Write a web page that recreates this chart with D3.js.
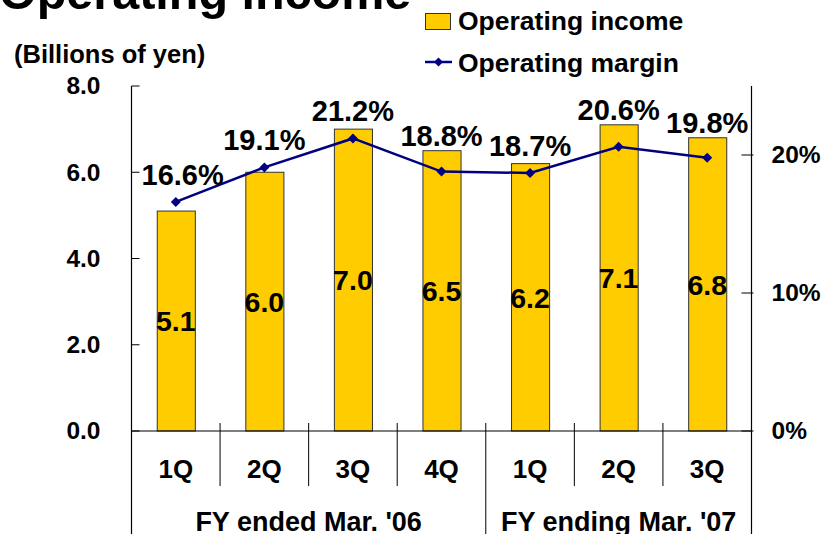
<!DOCTYPE html>
<html>
<head>
<meta charset="utf-8">
<script src="https://cdn.jsdelivr.net/npm/d3@7"></script>
<style>
  html, body { margin: 0; padding: 0; background: #fff; }
  svg { display: block; }
  text { font-family: "Liberation Sans", Arial, sans-serif; font-weight: bold; fill: #000; }
</style>
</head>
<body>
<svg id="chart" width="827" height="534"></svg>
<script>
// ---- Data ----
const quarters = ["1Q", "2Q", "3Q", "4Q", "1Q", "2Q", "3Q"];
const fiscalYears = ["FY ended Mar. '06", "FY ending Mar. '07"];
const fiscalYearSpans = [4, 3];
const operatingIncome = [5.1, 6.0, 7.0, 6.5, 6.2, 7.1, 6.8];
const incomeLabels = ["5.1", "6.0", "7.0", "6.5", "6.2", "7.1", "6.8"];
const operatingMargin = [16.6, 19.1, 21.2, 18.8, 18.7, 20.6, 19.8];
const marginLabels = ["16.6%", "19.1%", "21.2%", "18.8%", "18.7%", "20.6%", "19.8%"];
const leftTicks = [0, 2, 4, 6, 8];
const leftTickLabels = ["0.0", "2.0", "4.0", "6.0", "8.0"];
const rightTicks = [0, 10, 20];
const rightTickLabels = ["0%", "10%", "20%"];
const seriesNames = ["Operating income", "Operating margin"];
const chartTitle = "Operating income";
const unitLabel = "(Billions of yen)";

// ---- Layout ----
const svg = d3.select("#chart");
const plot = { left: 131.5, right: 751.5, top: 86, bottom: 431 };
const barColor = "#FFCC00";
const lineColor = "#000080";

const idx = d3.range(quarters.length);
const x = d3.scaleBand().domain(idx).range([plot.left, plot.right])
  .paddingInner(0.57).paddingOuter(0.285);
const step = x.step();
const cx = i => x(i) + x.bandwidth() / 2;
const yL = d3.scaleLinear().domain([0, 8]).range([plot.bottom, plot.top]);
const yR = d3.scaleLinear().domain([0, 25]).range([plot.bottom, plot.top]);

// Title (partially cut off at top)
svg.append("text").attr("x", -1).attr("y", 9).style("font-size", "48.5px").text(chartTitle);

// Unit label
svg.append("text").attr("x", 14).attr("y", 63).style("font-size", "25.5px").text(unitLabel);

// Legend
const lg = svg.append("g");
lg.append("rect").attr("x", 425.5).attr("y", 13.5).attr("width", 25).attr("height", 16)
  .attr("fill", barColor).attr("stroke", "#333").attr("stroke-width", 1);
lg.append("text").attr("x", 458).attr("y", 30).style("font-size", "26.5px").text(seriesNames[0]);
lg.append("line").attr("x1", 425).attr("x2", 452).attr("y1", 62).attr("y2", 62)
  .attr("stroke", lineColor).attr("stroke-width", 2.5);
lg.append("path").attr("d", d3.symbol(d3.symbolSquare, 40)())
  .attr("transform", "translate(438.5,62) rotate(45)").attr("fill", lineColor);
lg.append("text").attr("x", 458).attr("y", 72).style("font-size", "26.5px").text(seriesNames[1]);

// Bars
svg.append("g").selectAll("rect").data(operatingIncome).join("rect")
  .attr("x", (d, i) => x(i) + 0.5)
  .attr("y", d => yL(d))
  .attr("width", x.bandwidth())
  .attr("height", d => yL(0) - yL(d))
  .attr("fill", barColor).attr("stroke", "#333").attr("stroke-width", 1);

// Bar value labels (centered vertically in bar)
svg.append("g").selectAll("text").data(operatingIncome).join("text")
  .attr("x", (d, i) => cx(i))
  .attr("y", d => (yL(d) + yL(0)) / 2)
  .attr("dy", "0.36em")
  .attr("text-anchor", "middle")
  .style("font-size", "28.5px")
  .text((d, i) => incomeLabels[i]);

// Left axis
const leftAxis = d3.axisLeft(yL).tickValues(leftTicks).tickSize(0).tickFormat((d, i) => leftTickLabels[i]);
const gl = svg.append("g").attr("transform", `translate(${plot.left},0)`).call(leftAxis);
gl.select(".domain").remove();
gl.selectAll("text").attr("x", -31).style("font-size", "24.5px").attr("fill", "#000")
  .style("font-family", '"Liberation Sans", Arial, sans-serif').style("font-weight", "bold");
svg.append("g").selectAll("line").data(leftTicks).join("line")
  .attr("x1", plot.left).attr("x2", plot.left + 8)
  .attr("y1", d => yL(d)).attr("y2", d => yL(d))
  .attr("stroke", "#000").attr("stroke-width", 1);
svg.append("line").attr("x1", plot.left).attr("x2", plot.left)
  .attr("y1", plot.top).attr("y2", 534).attr("stroke", "#000").attr("stroke-width", 1.2);

// Right axis
const rightAxis = d3.axisRight(yR).tickValues(rightTicks).tickSize(0).tickFormat((d, i) => rightTickLabels[i]);
const gr = svg.append("g").attr("transform", `translate(${plot.right},0)`).call(rightAxis);
gr.select(".domain").remove();
gr.selectAll("text").attr("x", 20).style("font-size", "24.5px").attr("fill", "#000")
  .style("font-family", '"Liberation Sans", Arial, sans-serif').style("font-weight", "bold");
svg.append("g").selectAll("line").data(rightTicks).join("line")
  .attr("x1", plot.right - 10).attr("x2", plot.right + 2)
  .attr("y1", d => yR(d)).attr("y2", d => yR(d))
  .attr("stroke", "#000").attr("stroke-width", 1);
svg.append("line").attr("x1", plot.right).attr("x2", plot.right)
  .attr("y1", plot.top).attr("y2", 534).attr("stroke", "#000").attr("stroke-width", 1.2);

// Baseline (category axis)
svg.append("line").attr("x1", plot.left).attr("x2", plot.right)
  .attr("y1", plot.bottom).attr("y2", plot.bottom).attr("stroke", "#000").attr("stroke-width", 1.2);

// Category dividers
let acc = 0;
const yearBounds = fiscalYearSpans.map(s => { acc += s; return acc; });
const dividers = d3.range(1, quarters.length);
svg.append("g").selectAll("line").data(dividers).join("line")
  .attr("x1", d => plot.left + d * step).attr("x2", d => plot.left + d * step)
  .attr("y1", plot.bottom - 8)
  .attr("y2", d => yearBounds.includes(d) ? 534 : 486)
  .attr("stroke", "#000").attr("stroke-width", 1);

// Quarter labels
svg.append("g").selectAll("text").data(quarters).join("text")
  .attr("x", (d, i) => cx(i)).attr("y", 478)
  .attr("text-anchor", "middle").style("font-size", "26px").text(d => d);

// Fiscal-year labels
let startIdx = 0;
fiscalYears.forEach((fy, k) => {
  const s = startIdx, e = startIdx + fiscalYearSpans[k];
  svg.append("text")
    .attr("x", plot.left + (s + e) / 2 * step).attr("y", 531)
    .attr("text-anchor", "middle").style("font-size", "27px").text(fy);
  startIdx = e;
});

// Margin line
const line = d3.line().x((d, i) => cx(i)).y(d => yR(d));
svg.append("path").datum(operatingMargin).attr("d", line)
  .attr("fill", "none").attr("stroke", lineColor).attr("stroke-width", 2.5);
svg.append("g").selectAll("path").data(operatingMargin).join("path")
  .attr("d", d3.symbol(d3.symbolSquare, 50)())
  .attr("transform", (d, i) => `translate(${cx(i)},${yR(d)}) rotate(45)`)
  .attr("fill", lineColor);

// Margin labels (above point, kept clear of the bar top and the left axis)
svg.append("g").selectAll("text").data(operatingMargin).join("text")
  .attr("text-anchor", "middle").style("font-size", "29px")
  .text((d, i) => marginLabels[i])
  .attr("y", (d, i) => Math.min(yR(d) - 17, yL(operatingIncome[i]) - 5))
  .attr("x", function (d, i) {
    const w = this.getComputedTextLength();
    return Math.max(cx(i), plot.left + 10 + w / 2);
  });
</script>
</body>
</html>
